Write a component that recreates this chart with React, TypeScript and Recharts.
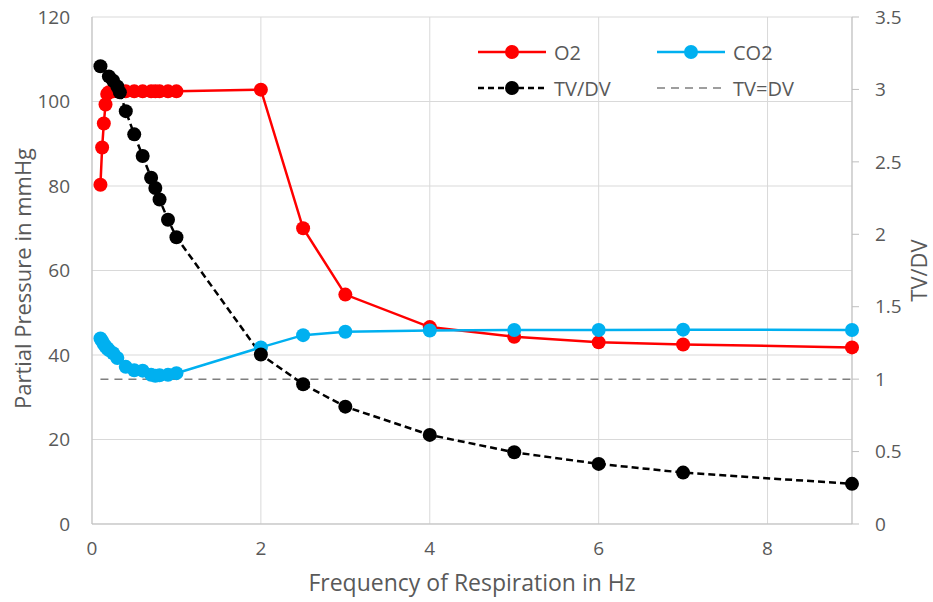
import React from 'react';
import { LineChart, Line, XAxis, YAxis, CartesianGrid, Label } from 'recharts';

// frequency of respiration (Hz) for each series
const o2Freq = [0.1, 0.12, 0.14, 0.16, 0.18, 0.2, 0.25, 0.3, 0.4, 0.5, 0.6, 0.7, 0.75, 0.8, 0.9, 1, 2, 2.5, 3, 4, 5, 6, 7, 9];
const o2Values = [80.3, 89.1, 94.8, 99.3, 101.8, 102.2, 102.4, 102.4, 102.4, 102.4, 102.4, 102.4, 102.4, 102.4, 102.4, 102.4, 102.8, 70.0, 54.3, 46.6, 44.3, 43.0, 42.5, 41.8];

const co2Freq = [0.1, 0.12, 0.14, 0.16, 0.18, 0.2, 0.25, 0.3, 0.4, 0.5, 0.6, 0.7, 0.75, 0.8, 0.9, 1, 2, 2.5, 3, 4, 5, 6, 7, 9];
const co2Values = [43.9, 43.3, 42.6, 42.0, 41.6, 41.2, 40.4, 39.3, 37.2, 36.4, 36.3, 35.3, 35.1, 35.2, 35.3, 35.7, 41.8, 44.7, 45.5, 45.8, 45.9, 45.9, 46.0, 45.9];

const tvFreq = [0.1, 0.2, 0.25, 0.3, 0.33, 0.4, 0.5, 0.6, 0.7, 0.75, 0.8, 0.9, 1, 2, 2.5, 3, 4, 5, 6, 7, 9];
const tvValues = [3.16, 3.09, 3.06, 3.02, 2.98, 2.85, 2.69, 2.54, 2.39, 2.32, 2.24, 2.1, 1.98, 1.17, 0.965, 0.81, 0.615, 0.495, 0.415, 0.355, 0.277];

const equalFreq = [0.1, 9];
const equalValues = [1, 1];

const xTicks = [0, 2, 4, 6, 8];
const leftTicks = [0, 20, 40, 60, 80, 100, 120];
const rightTicks = [0, 0.5, 1, 1.5, 2, 2.5, 3, 3.5];

const toPoints = (xs: number[], ys: number[]) => xs.map((x, i) => ({ x, y: ys[i] }));

const FONT = '"Open Sans", sans-serif';
const TEXT = '#595959';
const AXIS = '#bfbfbf';

const tickStyle = { fill: TEXT, fontSize: 19, fontFamily: FONT };

const LegendItem = ({ color, label, dash, dot, x, y }: any) => (
  <g>
    <line x1={x} y1={y} x2={x + 68} y2={y} stroke={color} strokeWidth={dot ? 2.5 : 1.5} strokeDasharray={dash} />
    {dot && <circle cx={x + 34} cy={y} r={7} fill={color} />}
    <text x={x + 76} y={y} dominantBaseline="central" fill={TEXT} fontSize={20} fontFamily={FONT}>{label}</text>
  </g>
);

const App = () => {
  return (
    <div style={{ position: 'absolute', left: 0, top: 0, width: 933, height: 602, background: '#fff' }}>
      <LineChart width={933} height={602} margin={{ top: 17, right: 0, bottom: 0, left: 0 }}>
        <CartesianGrid stroke="#d9d9d9" strokeWidth={1} yAxisId="left" />
        <XAxis
          dataKey="x"
          type="number"
          domain={[0, 9]}
          ticks={xTicks}
          height={78}
          stroke={AXIS}
          tickLine={false}
          tickSize={0}
          tickMargin={18}
          tick={tickStyle}
        >
          <Label
            content={({ viewBox }: any) => (
              <text x={viewBox.x + viewBox.width / 2} y={viewBox.y + 58} textAnchor="middle" dominantBaseline="central" fill={TEXT} fontSize={23} fontFamily={FONT}>
                Frequency of Respiration in Hz
              </text>
            )}
          />
        </XAxis>
        <YAxis
          yAxisId="left"
          type="number"
          domain={[0, 120]}
          ticks={leftTicks}
          width={92}
          stroke={AXIS}
          tickLine={false}
          tickSize={0}
          tickMargin={22}
          tick={tickStyle}
        >
          <Label
            content={({ viewBox }: any) => {
              const cx = viewBox.x + 22;
              const cy = viewBox.y + viewBox.height / 2 + 8;
              return (
                <text x={cx} y={cy} transform={`rotate(-90 ${cx} ${cy})`} textAnchor="middle" dominantBaseline="central" fill={TEXT} fontSize={22} fontFamily={FONT}>
                  Partial Pressure in mmHg
                </text>
              );
            }}
          />
        </YAxis>
        <YAxis
          yAxisId="right"
          orientation="right"
          type="number"
          domain={[0, 3.5]}
          ticks={rightTicks}
          width={81}
          stroke={AXIS}
          tickSize={7}
          tickMargin={16}
          tick={tickStyle}
        >
          <Label
            content={({ viewBox }: any) => {
              const cx = viewBox.x + 66;
              const cy = viewBox.y + viewBox.height / 2;
              return (
                <text x={cx} y={cy} transform={`rotate(-90 ${cx} ${cy})`} textAnchor="middle" dominantBaseline="central" fill={TEXT} fontSize={22} fontFamily={FONT}>
                  TV/DV
                </text>
              );
            }}
          />
        </YAxis>
        <Line
          yAxisId="right"
          data={toPoints(equalFreq, equalValues)}
          dataKey="y"
          stroke="#7f7f7f"
          strokeWidth={1.5}
          strokeDasharray="8 6"
          dot={false}
          isAnimationActive={false}
        />
        <Line
          yAxisId="left"
          data={toPoints(o2Freq, o2Values)}
          dataKey="y"
          stroke="#ff0000"
          strokeWidth={2.5}
          dot={{ r: 7, fill: '#ff0000', stroke: 'none' }}
          isAnimationActive={false}
        />
        <Line
          yAxisId="left"
          data={toPoints(co2Freq, co2Values)}
          dataKey="y"
          stroke="#00b0f0"
          strokeWidth={2.5}
          dot={{ r: 7, fill: '#00b0f0', stroke: 'none' }}
          isAnimationActive={false}
        />
        <Line
          yAxisId="right"
          data={toPoints(tvFreq, tvValues)}
          dataKey="y"
          stroke="#000000"
          strokeWidth={2.5}
          strokeDasharray="7 4"
          dot={{ r: 7, fill: '#000000', stroke: 'none', strokeDasharray: '' }}
          isAnimationActive={false}
        />
      </LineChart>
      <svg width={933} height={602} style={{ position: 'absolute', left: 0, top: 0, pointerEvents: 'none' }}>
        <LegendItem color="#ff0000" label="O2" dot x={478} y={52} />
        <LegendItem color="#00b0f0" label="CO2" dot x={657} y={52} />
        <LegendItem color="#000000" label="TV/DV" dot dash="6 4" x={478} y={88} />
        <LegendItem color="#7f7f7f" label="TV=DV" dash="8 6" x={657} y={88} />
      </svg>
    </div>
  );
};

export default App;
